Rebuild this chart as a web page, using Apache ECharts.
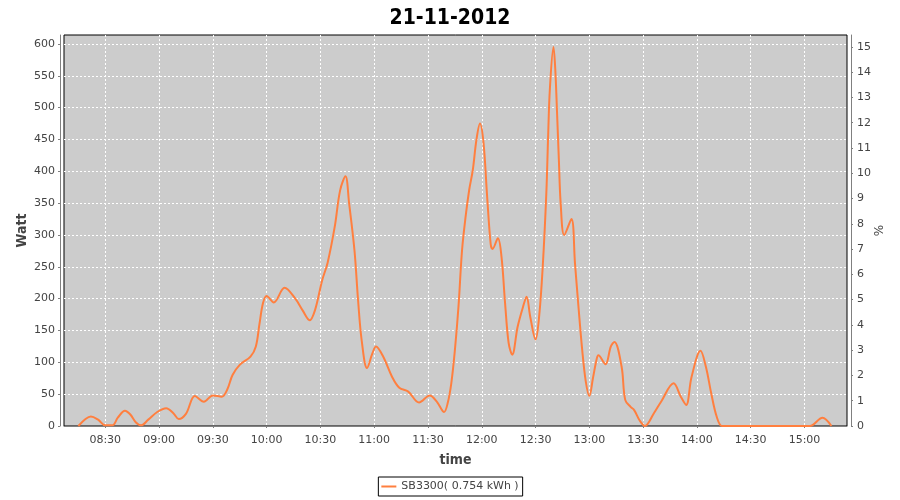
<!DOCTYPE html>
<html><head><meta charset="utf-8">
<script src="https://cdn.jsdelivr.net/npm/echarts@6/dist/echarts.min.js"></script>
<style>html,body{margin:0;padding:0;background:#fff}#c{width:900px;height:500px}</style>
</head><body><div id="c"></div>
<script>
const chartTitle = '21-11-2012';
const seriesName = 'SB3300( 0.754 kWh )';
const leftAxisName = 'Watt';
const rightAxisName = '%';
const xAxisName = 'time';

const times = [
 '08:15','08:19','08:22','08:26','08:30','08:34','08:37','08:41','08:44','08:47','08:50','08:54','08:59',
 '09:04','09:08','09:11','09:15','09:20','09:25','09:30','09:35','09:38','09:41','09:45','09:51','09:54','09:56','09:58',
 '10:00','10:04','10:10','10:16','10:20','10:24','10:27','10:31','10:34','10:38','10:41','10:44','10:46','10:49','10:51','10:53','10:56','10:59',
 '11:01','11:05','11:10','11:14','11:19','11:25','11:31','11:35','11:39','11:41','11:43','11:45','11:47','11:49','11:51','11:53','11:55','11:57','11:59',
 '12:01','12:03','12:05','12:06','12:09','12:11','12:13','12:15','12:17','12:20','12:23','12:25','12:27','12:30','12:32','12:34','12:36','12:37','12:38','12:40','12:41','12:42','12:43','12:44','12:46','12:50','12:52','12:54','12:56','12:58',
 '13:00','13:02','13:04','13:05','13:09','13:12','13:14','13:18','13:20','13:23','13:25','13:28','13:31','13:36','13:40','13:47','13:51','13:54','13:57',
 '14:02','14:05','14:08','14:11','14:14','14:20','14:30','14:40','14:50','15:00','15:03','15:10','15:15'
];
const watts = [
 0,11,15,10,1,1,13,24,18,6,1,10,22,
 28,20,11,19,47,38,48,46,57,80,96,109,125,160,193,
 204,194,217,200,182,166,182,229,256,313,370,392,350,276,198,135,91,114,
 125,109,77,60,54,37,48,38,22,36,67,119,187,276,329,371,402,449,475,
 444,360,285,278,295,266,193,130,112,156,187,203,172,136,172,250,365,454,530,595,560,491,418,350,300,325,255,185,120,70,
 47,75,104,111,97,125,132,93,41,30,25,9,0,20,38,67,46,33,77,
 118,93,51,15,0,0,0,0,0,0,0,13,0
];
const timeTicks = ['08:30','09:00','09:30','10:00','10:30','11:00','11:30','12:00','12:30','13:00','13:30','14:00','14:30','15:00'];
const wattTicks = [0,50,100,150,200,250,300,350,400,450,500,550,600];
const pctTicks = [0,1,2,3,4,5,6,7,8,9,10,11,12,13,14,15];

function mins(hm){const p=hm.split(':').map(Number);return p[0]*60+p[1]+(p[2]||0)/60;}
function fmt(v){const h=Math.floor(v/60),m=Math.round(v-h*60);return String(h).padStart(2,'0')+':'+String(m).padStart(2,'0');}
const data = times.map((t,i)=>[mins(t), watts[i]]);
const xTickVals = timeTicks.map(mins);

const chart = echarts.init(document.getElementById('c'), null, {renderer:'canvas'});
const txt = '#444444', axisCol = '#808080';
const gridLine = {show:true,lineStyle:{color:'#ffffff',type:[2,2],width:1}};
chart.setOption({
  animation:false,
  backgroundColor:'#ffffff',
  title:{text:chartTitle,left:'center',top:3,textStyle:{fontFamily:'DejaVu Sans Condensed',fontWeight:'bold',fontSize:21,color:'#000'}},
  legend:{left:'center',top:477,padding:[4,4,4,3],borderColor:'#000',borderWidth:1,itemWidth:15,itemHeight:2,icon:'rect',
    textStyle:{fontFamily:'DejaVu Sans',fontSize:11,color:txt},data:[seriesName]},
  grid:{left:64,right:53,top:35,bottom:74,show:true,backgroundColor:'#cccccc',borderColor:'#000',borderWidth:1},
  xAxis:{type:'value',min:mins('08:07:00'),max:mins('15:23:42'),offset:4,
    name:xAxisName,nameLocation:'middle',nameGap:23,nameMoveOverlap:false,nameTextStyle:{fontFamily:'DejaVu Sans Condensed',fontWeight:'bold',fontSize:14,color:txt},
    axisLine:{show:true,lineStyle:{color:axisCol}},axisTick:{show:true,length:2,lineStyle:{color:axisCol},customValues:xTickVals},
    axisLabel:{formatter:fmt,fontFamily:'DejaVu Sans',fontSize:11,color:txt,margin:5,customValues:xTickVals},
    splitLine:gridLine},
  yAxis:[
    {type:'value',min:0,max:614,offset:4,position:'left',
     name:leftAxisName,nameLocation:'middle',nameGap:31,nameMoveOverlap:false,nameTextStyle:{fontFamily:'DejaVu Sans Condensed',fontWeight:'bold',fontSize:14,color:txt},
     axisLine:{show:true,lineStyle:{color:axisCol}},axisTick:{show:true,length:2,lineStyle:{color:axisCol},customValues:wattTicks},
     axisLabel:{fontFamily:'DejaVu Sans',fontSize:11,color:txt,margin:5,customValues:wattTicks},
     splitLine:gridLine},
    {type:'value',min:0,max:15.47,offset:4,position:'right',
     name:rightAxisName,nameLocation:'middle',nameGap:23,nameMoveOverlap:false,nameTextStyle:{fontFamily:'DejaVu Sans',fontSize:12,color:txt},
     axisLine:{show:true,lineStyle:{color:axisCol}},axisTick:{show:true,length:2,lineStyle:{color:axisCol},customValues:pctTicks},
     axisLabel:{fontFamily:'DejaVu Sans',fontSize:11,color:txt,margin:6,customValues:pctTicks},
     splitLine:{show:false}}
  ],
  series:[{name:seriesName,type:'line',yAxisIndex:0,data:data,smooth:0.35,symbol:'none',clip:true,
    lineStyle:{color:'#ff7f3f',width:2},itemStyle:{color:'#ff7f3f'}}]
});
</script>
</body></html>
